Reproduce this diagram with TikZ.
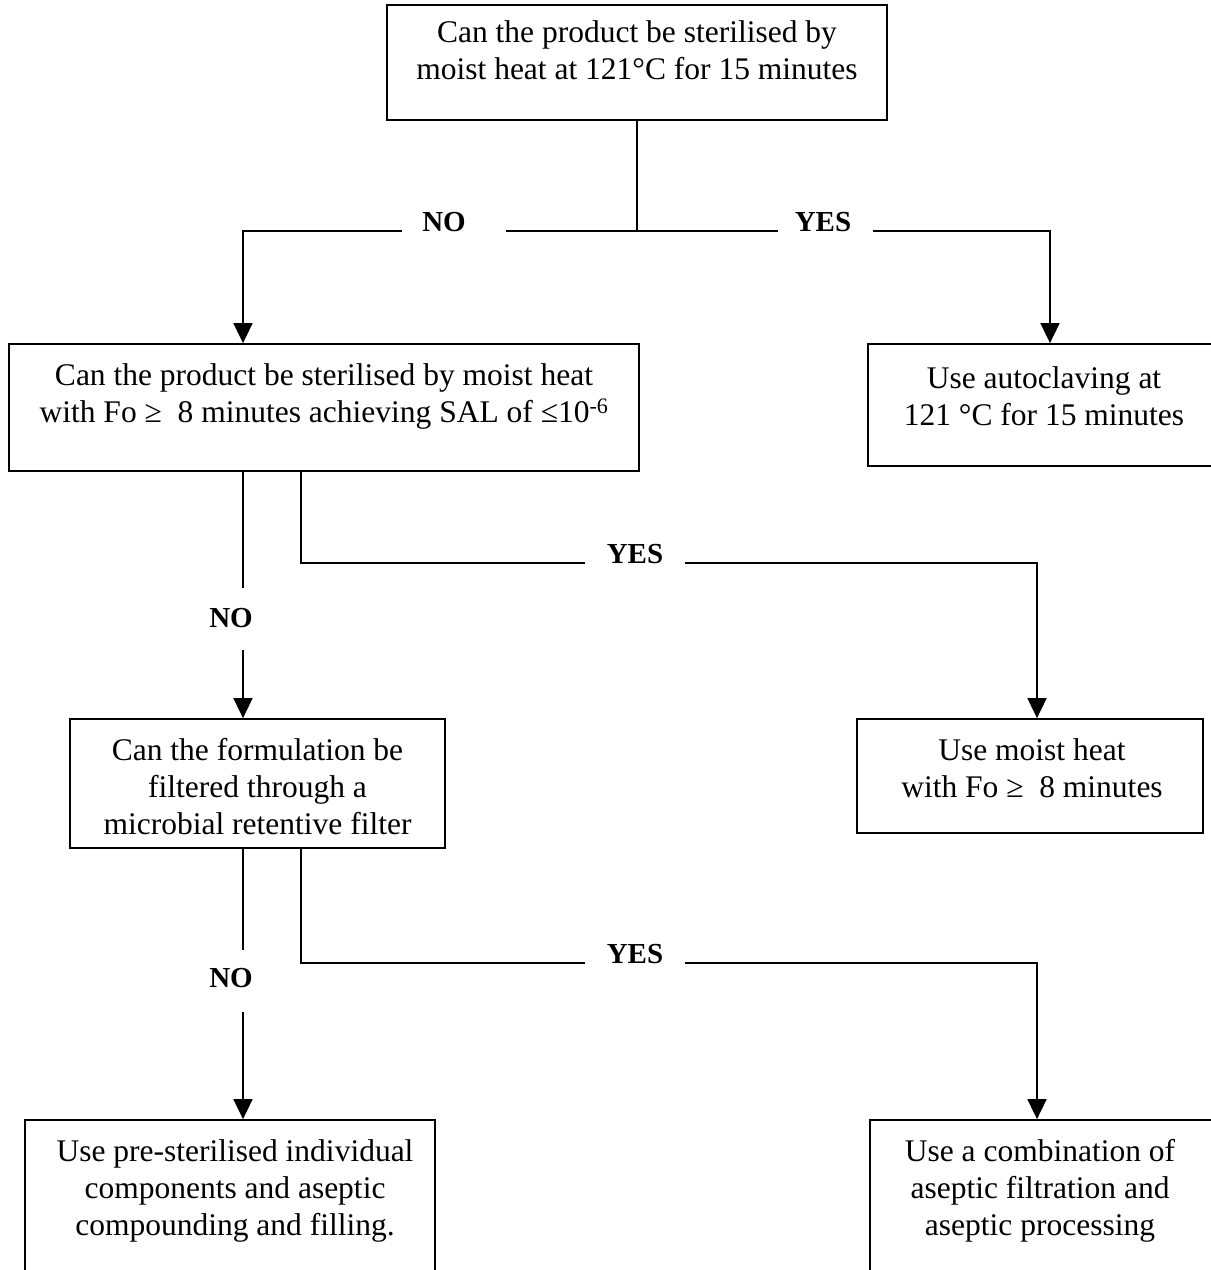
\documentclass[tikz,border=0pt]{standalone}
\usepackage{fontspec}
\setmainfont{Liberation Serif}
\usetikzlibrary{arrows.meta}
\begin{document}
\begin{tikzpicture}[x=1pt,y=-1pt,
  box/.style={draw=black,line width=1.8pt,inner sep=0pt,rectangle},
  txt/.style={anchor=north,inner sep=0pt,align=center,font=\fontsize{31.5}{37}\selectfont},
  lbl/.style={anchor=base,inner sep=0pt,font=\fontsize{29}{34}\selectfont\bfseries},
  ln/.style={line width=1.8pt},
  arr/.style={line width=1.8pt,-{Triangle[width=19pt,length=20pt]}}]
\useasboundingbox (0,0) rectangle (1211,1270);
% boxes
\node[box,minimum width=500pt,minimum height=115pt] (b1) at (637,62.5) {};
\node[box,minimum width=630pt,minimum height=127pt] (b2) at (324,407.5) {};
\node[box,minimum width=346pt,minimum height=122pt] (b3) at (1041,405) {};
\node[box,minimum width=375pt,minimum height=129pt] (b4) at (257.5,783.5) {};
\node[box,minimum width=346pt,minimum height=114pt] (b5) at (1030,776) {};
\node[box,minimum width=410pt,minimum height=200pt] (b6) at (230,1220) {};
\node[box,minimum width=344pt,minimum height=200pt] (b7) at (1042,1220) {};
% texts
\node[txt] (t1) at (637,20.5) {Can the product be sterilised by\\moist heat at 121°C for 15 minutes};
\node[txt] (t2) at (324,363.5) {Can the product be sterilised by moist heat\\with Fo ≥\ \ 8 minutes achieving SAL of ≤10\textsuperscript{-6}};
\node[txt] (t3) at (1044,366.5) {Use autoclaving at\\121 °C for 15 minutes};
\node[txt] (t4) at (257.5,738.5) {Can the formulation be\\filtered through a\\microbial retentive filter};
\node[txt] (t5) at (1032,738.5) {Use moist heat\\with Fo ≥\ \ 8 minutes};
\node[txt] (t6) at (235,1139.5) {Use pre-sterilised individual\\components and aseptic\\compounding and filling.};
\node[txt] (t7) at (1040,1139.5) {Use a combination of\\aseptic filtration and\\aseptic processing};
% labels
\node[lbl] (no1) at (444,231) {NO};
\node[lbl] (yes1) at (823,231) {YES};
\node[lbl] (no2) at (231,627) {NO};
\node[lbl] (yes2) at (635,563) {YES};
\node[lbl] (no3) at (231,987) {NO};
\node[lbl] (yes3) at (635,963) {YES};
% coordinates
\coordinate (cL) at (243,0);
\coordinate (cM) at (301,0);
\coordinate (cR) at (1050,0);
\coordinate (cR2) at (1037,0);
\coordinate (j1) at (637,231);
\coordinate (g1a) at (402,231);
\coordinate (g1b) at (506,231);
\coordinate (g2a) at (778,231);
\coordinate (g2b) at (873,231);
\coordinate (n2a) at (243,588);
\coordinate (n2b) at (243,650);
\coordinate (g3a) at (585,563);
\coordinate (g3b) at (685,563);
\coordinate (n3a) at (243,950);
\coordinate (n3b) at (243,1012);
\coordinate (g4a) at (585,963);
\coordinate (g4b) at (685,963);
% connectors
\draw[ln] (b1.south) -- (j1) -- (g1b);
\draw[arr] (g1a) -| (b2.north -| cL);
\draw[ln] (j1) -- (g2a);
\draw[arr] (g2b) -| (b3.north -| cR);
\draw[ln] (b2.south -| cL) -- (n2a);
\draw[arr] (n2b) -- (b4.north -| cL);
\draw[ln] (b2.south -| cM) |- (g3a);
\draw[arr] (g3b) -| (b5.north -| cR2);
\draw[ln] (b4.south -| cL) -- (n3a);
\draw[arr] (n3b) -- (b6.north -| cL);
\draw[ln] (b4.south -| cM) |- (g4a);
\draw[arr] (g4b) -| (b7.north -| cR2);
\end{tikzpicture}
\end{document}
